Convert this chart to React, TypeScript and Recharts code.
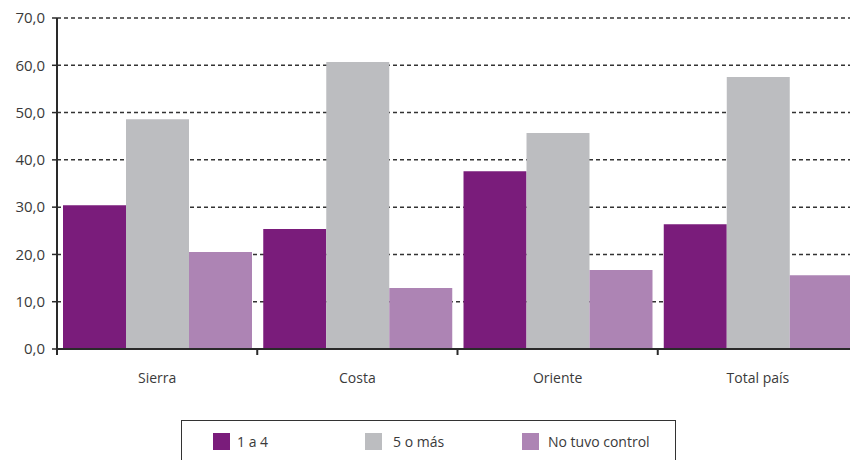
import React from "react";
import { BarChart, Bar, XAxis, YAxis, CartesianGrid } from "recharts";

const categories = ["Sierra", "Costa", "Oriente", "Total país"];
const serie1a4 = [30.4, 25.4, 37.6, 26.4];
const serie5oMas = [48.6, 60.7, 45.7, 57.5];
const serieNoControl = [20.5, 12.9, 16.7, 15.6];
const yTicks = [0, 10, 20, 30, 40, 50, 60, 70];
const seriesNames = ["1 a 4", "5 o más", "No tuvo control"];
const seriesColors = ["#7A1C7B", "#BCBDC0", "#AD84B4"];

const data = categories.map((c, i) => ({
  cat: c,
  a: serie1a4[i],
  b: serie5oMas[i],
  c: serieNoControl[i],
}));

const FONT = "'Open Sans', Lato, sans-serif";
const TEXT = "#3a3a3a";
const AXIS = "#2a2a2a";

const XTick = (props: any) => {
  const { x, y, payload, width } = props;
  const band = width / categories.length;
  const bx = x - band / 2;
  return (
    <g>
      <line x1={bx} y1={y - 8} x2={bx} y2={y - 2} stroke={AXIS} strokeWidth={2} />
      <text
        x={x}
        y={y + 26}
        textAnchor="middle"
        fill={TEXT}
        fontSize={14}
        fontFamily={FONT}
      >
        {payload.value}
      </text>
    </g>
  );
};

export default function App() {
  return (
    <div
      style={{
        position: "absolute",
        left: 0,
        top: 0,
        width: 850,
        height: 460,
        overflow: "hidden",
        background: "#fff",
      }}
    >
      <BarChart
        width={870}
        height={460}
        data={data}
        margin={{ top: 18, right: 12, bottom: 71, left: 0 }}
        barCategoryGap="3%"
        barGap={0}
      >
        <CartesianGrid
          horizontal={true}
          vertical={false}
          stroke="#333"
          strokeWidth={1.5}
          strokeDasharray="4 3"
        />
        <XAxis
          dataKey="cat"
          height={40}
          tickLine={false}
          axisLine={{ stroke: AXIS, strokeWidth: 2 }}
          tick={<XTick />}
          interval={0}
        />
        <YAxis
          width={57}
          domain={[0, 70]}
          ticks={yTicks}
          interval={0}
          tickSize={5}
          tickMargin={7}
          axisLine={{ stroke: AXIS, strokeWidth: 2 }}
          tickLine={{ stroke: AXIS, strokeWidth: 1.5 }}
          tickFormatter={(v: number) => v.toFixed(1).replace(".", ",")}
          tick={{ fill: TEXT, fontSize: 15, fontFamily: FONT }}
        />
        <Bar dataKey="a" name={seriesNames[0]} fill={seriesColors[0]} isAnimationActive={false} />
        <Bar dataKey="b" name={seriesNames[1]} fill={seriesColors[1]} isAnimationActive={false} />
        <Bar dataKey="c" name={seriesNames[2]} fill={seriesColors[2]} isAnimationActive={false} />
      </BarChart>
      <div
        style={{
          position: "absolute",
          left: 181,
          top: 420,
          width: 495,
          height: 50,
          border: "1.5px solid #333",
          boxSizing: "border-box",
          fontFamily: FONT,
          fontSize: 14,
          color: TEXT,
        }}
      >
        {seriesNames.map((n, i) => (
          <div
            key={n}
            style={{
              position: "absolute",
              left: [31, 183, 340][i],
              top: 11,
              display: "flex",
              alignItems: "center",
              whiteSpace: "nowrap",
            }}
          >
            <span
              style={{
                display: "inline-block",
                width: 17,
                height: 17,
                background: seriesColors[i],
                marginRight: [7, 11, 9][i],
              }}
            />
            <span>{n}</span>
          </div>
        ))}
      </div>
    </div>
  );
}
